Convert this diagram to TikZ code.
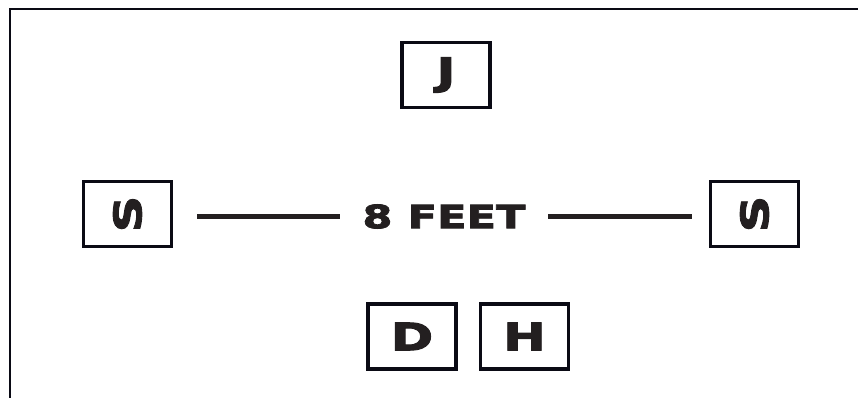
\documentclass[tikz,border=0pt]{standalone}
\usepackage{fontspec}
\newfontfamily\blockfont{DejaVu Sans Bold}[FakeStretch=1.35, FakeBold=2.5]
\definecolor{inkdark}{RGB}{35, 31, 32}
\definecolor{boxedge}{RGB}{10, 10, 20}
\usetikzlibrary{positioning}

\begin{document}
\begin{tikzpicture}[x=1pt, y=-1pt,
        seat/.style={draw=boxedge, line width=3.2pt, minimum width=88pt, minimum height=65pt, inner sep=0pt, text=inkdark, font=\blockfont\fontsize{38}{38}\selectfont},
        gap/.style={draw=inkdark, line width=4.2pt},
        label/.style={inner sep=0pt, minimum width=208pt, minimum height=30pt, text=inkdark, font=\blockfont\fontsize{32}{32}\selectfont}
      ]
        \useasboundingbox (0, 0) rectangle (858, 398);
        \draw[line width=2.6pt, boxedge] (10, 398) -- (10, 9) -- (858, 9);
        \node[seat] (judge)  at (446, 75)    {J};
        \node[seat] (sleft)  at (127.5, 214) {\rotatebox{90}{S}};
        \node[seat] (sright) at (754.5, 214) {\rotatebox{90}{S}};
        \node[seat] (dpos)   at (412, 336.5) {D};
        \node[seat] (hpos)   at (524.5, 336.5) {H};
        \node[label] (feet)  at (444, 216.5) {8 FEET};
        \draw[gap, shorten <=24pt] (feet.west -| sleft.east) -- (feet.west);
        \draw[gap, shorten >=17pt] (feet.east) -- (feet.east -| sright.west);
      \end{tikzpicture}
\end{document}
